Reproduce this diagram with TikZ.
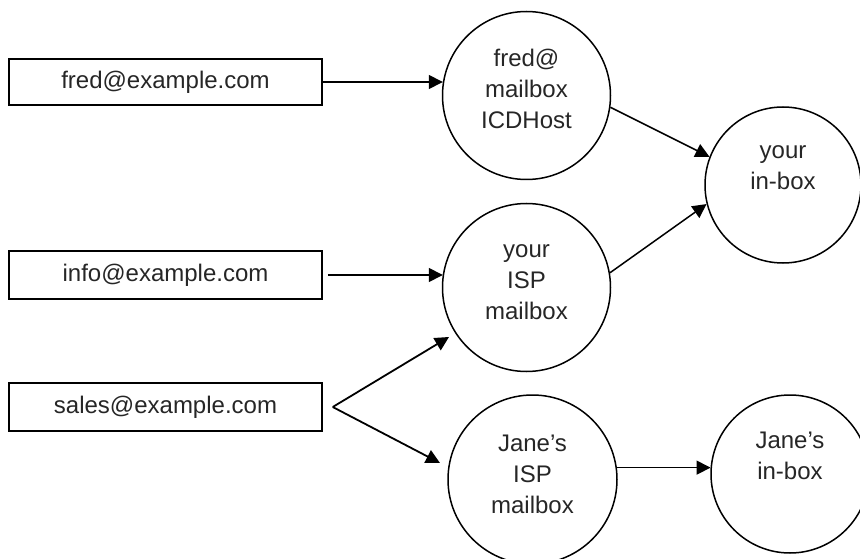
\documentclass[tikz,border=0pt]{standalone}
\usepackage{fontspec}
\setmainfont{Liberation Sans}
\usetikzlibrary{arrows.meta,calc}
\begin{document}
\begin{tikzpicture}[x=1pt,y=-1pt,
  every node/.style={font=\fontsize{24}{31}\selectfont, text=black!85},
  addrbox/.style={draw, line width=1.5pt, minimum width=313pt, minimum height=46pt, inner sep=0pt},
  mbox/.style={draw, circle, line width=1.5pt, inner sep=0pt},
  lbl/.style={align=center, inner sep=0pt},
  conn/.style={line width=1.5pt, -{Triangle[length=14pt,width=14pt]}}
]
\useasboundingbox (0,0) rectangle (860,559);
% address boxes
\node[addrbox] (b1) at (165.5,82) {fred@example.com};
\node[addrbox, minimum height=48pt] (b2) at (165.5,275) {info@example.com};
\node[addrbox, minimum height=48pt] (b3) at (165.5,407) {sales@example.com};
% circles
\node[mbox, minimum size=168pt] (c1) at (526.5,95.5) {};
\node[mbox, minimum size=168pt] (c2) at (526.5,287.5) {};
\node[mbox, minimum size=156pt] (c3) at (783,185) {};
\node[mbox, minimum size=169pt] (c4) at (532.5,479.5) {};
\node[mbox, minimum size=158pt] (c5) at (790,474) {};
% circle texts
\node[lbl] (t1) at (526.5,89) {fred@\\mailbox\\ICDHost};
\node[lbl] (t2) at (526.5,282) {your\\ISP\\mailbox};
\node[lbl] (t3) at (783,168) {your\\in-box};
\node[lbl] (t4) at (532.5,474) {Jane’s\\ISP\\mailbox};
\node[lbl] (t5) at (790,456) {Jane’s\\in-box};
% connectors
\draw[conn] (b1.east) -- (b1.east -| c1.171);
\draw[conn] ([xshift=5pt]b2.east) -- (b2.east -| c2.171);
\draw[conn] (c1.-8) -- (c3.159);
\draw[conn] (c2.10) -- (c3.194);
\coordinate (v) at ($(b3.east)+(10,0)$);
\coordinate (e1) at (449,337);
\coordinate (e2) at (440,463);
\draw[conn, line width=1.8pt] (v) -- (e1);
\draw[conn, line width=1.8pt] (v) -- (e2);
\draw[conn] (c4.8.5) -- (c4.8.5 -| c5.175);
\end{tikzpicture}
\end{document}
